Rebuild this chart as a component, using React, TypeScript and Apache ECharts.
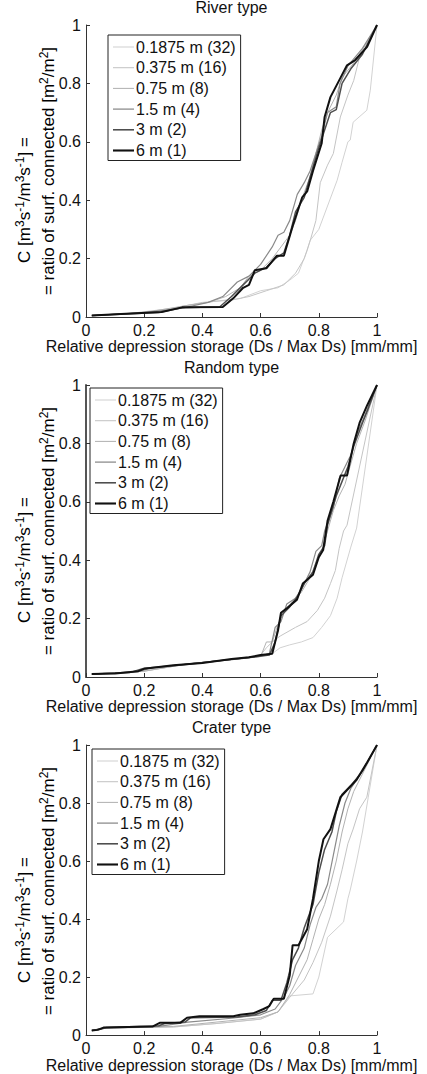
import React, { useEffect, useRef } from "react";
import * as echarts from "echarts";

type Pt = [number, number];

// Grid cell sizes (m) with number of cells per side
const sizeLabels = ["0.1875 m (32)", "0.375 m (16)", "0.75 m (8)", "1.5 m (4)", "3 m (2)", "6 m (1)"];
const lineColors = ["#d2d2d2", "#c4c4c4", "#b2b2b2", "#8a8a8a", "#4e4e4e", "#111111"];
const lineWidths = [1, 1, 1, 1.2, 1.5, 2];

const panelTitles = ["River type", "Random type", "Crater type"];
const xTickLabels = ["0", "0.2", "0.4", "0.6", "0.8", "1"];

// River type: relative depression storage vs. connectivity C
const river1875: Pt[] = [[0.02,0.005],[0.12,0.01],[0.25,0.02],[0.35,0.04],[0.45,0.055],[0.53,0.063],[0.6,0.09],[0.66,0.1],[0.7,0.126],[0.73,0.15],[0.76,0.228],[0.77,0.262],[0.8,0.3],[0.83,0.38],[0.863,0.468],[0.88,0.53],[0.9,0.6],[0.908,0.606],[0.918,0.667],[0.965,0.708],[0.977,0.777],[1,1]];
const river375: Pt[] = [[0.02,0.005],[0.15,0.012],[0.3,0.03],[0.4,0.05],[0.5,0.058],[0.56,0.07],[0.62,0.09],[0.68,0.11],[0.72,0.15],[0.75,0.2],[0.77,0.26],[0.79,0.33],[0.805,0.46],[0.83,0.52],[0.85,0.56],[0.874,0.685],[0.9,0.76],[0.92,0.81],[0.94,0.89],[0.97,0.94],[1,1]];
const river75: Pt[] = [[0.02,0.005],[0.2,0.015],[0.35,0.04],[0.42,0.05],[0.48,0.07],[0.53,0.1],[0.56,0.14],[0.6,0.16],[0.64,0.2],[0.67,0.24],[0.7,0.28],[0.72,0.33],[0.74,0.4],[0.77,0.48],[0.79,0.56],[0.81,0.64],[0.83,0.7],[0.86,0.76],[0.88,0.82],[0.92,0.87],[0.96,0.93],[1,1]];
const river15: Pt[] = [[0.02,0.005],[0.2,0.015],[0.33,0.03],[0.42,0.05],[0.47,0.07],[0.52,0.12],[0.56,0.14],[0.6,0.18],[0.64,0.24],[0.66,0.28],[0.68,0.29],[0.7,0.33],[0.726,0.42],[0.75,0.46],[0.77,0.5],[0.79,0.56],[0.81,0.62],[0.83,0.7],[0.86,0.72],[0.873,0.8],[0.9,0.86],[0.95,0.92],[1,1]];
const river3: Pt[] = [[0.02,0.005],[0.25,0.015],[0.33,0.032],[0.46,0.035],[0.5,0.07],[0.54,0.11],[0.58,0.15],[0.62,0.17],[0.65,0.2],[0.68,0.22],[0.7,0.28],[0.72,0.36],[0.75,0.41],[0.77,0.48],[0.8,0.58],[0.82,0.64],[0.84,0.7],[0.86,0.71],[0.88,0.8],[0.91,0.85],[0.95,0.9],[1,1]];
const river6: Pt[] = [[0.02,0.005],[0.12,0.01],[0.26,0.017],[0.33,0.033],[0.47,0.034],[0.506,0.064],[0.54,0.1],[0.56,0.11],[0.58,0.16],[0.62,0.167],[0.656,0.21],[0.68,0.21],[0.713,0.32],[0.743,0.41],[0.76,0.43],[0.78,0.5],[0.81,0.595],[0.82,0.685],[0.84,0.753],[0.874,0.818],[0.897,0.862],[0.925,0.88],[0.966,0.925],[1,1]];

// Random type
const random1875: Pt[] = [[0.02,0.01],[0.2,0.02],[0.35,0.045],[0.5,0.06],[0.6,0.07],[0.64,0.08],[0.667,0.1],[0.7,0.11],[0.74,0.12],[0.78,0.135],[0.81,0.17],[0.84,0.21],[0.863,0.27],[0.88,0.34],[0.91,0.445],[0.93,0.51],[1,1]];
const random375: Pt[] = [[0.02,0.01],[0.2,0.02],[0.35,0.045],[0.5,0.06],[0.6,0.075],[0.62,0.1],[0.64,0.12],[0.667,0.14],[0.72,0.17],[0.76,0.19],[0.795,0.228],[0.82,0.27],[0.84,0.32],[0.857,0.365],[0.87,0.44],[0.885,0.5],[0.897,0.52],[1,1]];
const random75: Pt[] = [[0.02,0.01],[0.2,0.02],[0.35,0.045],[0.5,0.06],[0.6,0.07],[0.62,0.12],[0.64,0.12],[0.66,0.18],[0.68,0.22],[0.71,0.26],[0.74,0.29],[0.77,0.34],[0.79,0.39],[0.81,0.43],[0.83,0.5],[0.85,0.57],[0.87,0.62],[0.89,0.66],[0.91,0.73],[0.93,0.8],[0.96,0.88],[1,1]];
const random15: Pt[] = [[0.02,0.01],[0.18,0.018],[0.22,0.03],[0.35,0.045],[0.5,0.06],[0.6,0.072],[0.63,0.08],[0.65,0.17],[0.67,0.19],[0.69,0.25],[0.72,0.27],[0.74,0.3],[0.77,0.36],[0.79,0.43],[0.81,0.45],[0.82,0.5],[0.85,0.58],[0.87,0.68],[0.89,0.72],[0.91,0.76],[0.93,0.83],[0.96,0.9],[1,1]];
const random3: Pt[] = [[0.02,0.01],[0.15,0.015],[0.2,0.03],[0.32,0.04],[0.45,0.055],[0.55,0.065],[0.63,0.075],[0.65,0.12],[0.67,0.21],[0.7,0.24],[0.73,0.28],[0.75,0.32],[0.78,0.36],[0.8,0.42],[0.82,0.45],[0.83,0.52],[0.86,0.62],[0.88,0.67],[0.9,0.72],[0.92,0.79],[0.95,0.87],[0.97,0.92],[1,1]];
const random6: Pt[] = [[0.02,0.01],[0.1,0.012],[0.18,0.02],[0.2,0.028],[0.3,0.04],[0.4,0.048],[0.45,0.055],[0.5,0.062],[0.56,0.068],[0.6,0.075],[0.64,0.08],[0.66,0.16],[0.67,0.22],[0.69,0.235],[0.725,0.265],[0.745,0.32],[0.78,0.35],[0.8,0.41],[0.815,0.435],[0.83,0.535],[0.85,0.6],[0.875,0.69],[0.897,0.69],[0.92,0.8],[0.94,0.87],[0.966,0.93],[1,1]];

// Crater type
const crater1875: Pt[] = [[0.02,0.016],[0.06,0.024],[0.3,0.028],[0.45,0.04],[0.6,0.055],[0.66,0.08],[0.7,0.135],[0.78,0.142],[0.8,0.2],[0.83,0.337],[0.885,0.39],[0.9,0.47],[0.908,0.5],[0.93,0.6],[0.95,0.7],[0.97,0.82],[1,1]];
const crater375: Pt[] = [[0.02,0.016],[0.06,0.024],[0.3,0.028],[0.45,0.04],[0.6,0.055],[0.66,0.08],[0.7,0.13],[0.75,0.19],[0.78,0.25],[0.81,0.32],[0.84,0.41],[0.863,0.5],[0.88,0.57],[0.9,0.66],[0.918,0.71],[0.94,0.78],[0.965,0.82],[1,1]];
const crater75: Pt[] = [[0.02,0.016],[0.06,0.024],[0.3,0.03],[0.45,0.045],[0.6,0.06],[0.66,0.08],[0.7,0.14],[0.73,0.2],[0.76,0.26],[0.78,0.33],[0.8,0.4],[0.82,0.45],[0.84,0.52],[0.86,0.6],[0.88,0.7],[0.9,0.78],[0.92,0.84],[0.95,0.9],[1,1]];
const crater15: Pt[] = [[0.02,0.016],[0.06,0.024],[0.25,0.03],[0.35,0.045],[0.5,0.058],[0.6,0.07],[0.65,0.09],[0.68,0.13],[0.7,0.17],[0.72,0.24],[0.75,0.3],[0.77,0.38],[0.79,0.44],[0.81,0.47],[0.83,0.52],[0.85,0.62],[0.87,0.72],[0.89,0.8],[0.91,0.85],[0.95,0.91],[1,1]];
const crater3: Pt[] = [[0.02,0.016],[0.05,0.02],[0.07,0.026],[0.25,0.032],[0.27,0.04],[0.34,0.045],[0.36,0.06],[0.52,0.062],[0.58,0.07],[0.62,0.085],[0.64,0.12],[0.67,0.12],[0.69,0.18],[0.71,0.26],[0.73,0.3],[0.75,0.37],[0.78,0.45],[0.8,0.56],[0.82,0.64],[0.845,0.7],[0.86,0.77],[0.88,0.83],[0.91,0.86],[0.95,0.91],[1,1]];
const crater6: Pt[] = [[0.02,0.016],[0.04,0.018],[0.06,0.026],[0.23,0.03],[0.255,0.043],[0.325,0.043],[0.347,0.06],[0.39,0.065],[0.506,0.065],[0.53,0.07],[0.575,0.075],[0.61,0.09],[0.63,0.1],[0.645,0.125],[0.68,0.125],[0.7,0.205],[0.71,0.31],[0.73,0.31],[0.76,0.365],[0.78,0.47],[0.8,0.6],[0.816,0.675],[0.84,0.71],[0.874,0.82],[0.897,0.845],[0.93,0.88],[0.966,0.94],[1,1]];

const panelData: Pt[][][] = [
  [river1875, river375, river75, river15, river3, river6],
  [random1875, random375, random75, random15, random3, random6],
  [crater1875, crater375, crater75, crater15, crater3, crater6],
];

const FONT = "Liberation Sans, Arial, sans-serif";
const TEXT = "#111";
const AXIS = "#333";

// layout of each panel
const plotLeft = 86;
const plotWidth = 291;
const plotHeight = 292;
const plotTops = [25, 385, 745];
const legendPos = [
  { left: 108, top: 35 },
  { left: 90, top: 388 },
  { left: 92, top: 749 },
];

export default function App() {
  const ref = useRef<HTMLDivElement>(null);

  useEffect(() => {
    if (!ref.current) return;
    const chart = echarts.init(ref.current, undefined, { renderer: "svg" });

    const fmt = (v: number) => xTickLabels[Math.round(v * 5)] ?? String(v);

    const grids = plotTops.map((top) => ({ left: plotLeft, top, width: plotWidth, height: plotHeight }));

    const axisCommon = (i: number) => ({
      gridIndex: i,
      type: "value" as const,
      min: 0,
      max: 1,
      interval: 0.2,
      splitLine: { show: false },
      axisLine: { show: true, onZero: false, lineStyle: { color: AXIS, width: 1 } },
      axisTick: { show: true, inside: true, length: 4, lineStyle: { color: AXIS } },
      axisLabel: { formatter: fmt, color: TEXT, fontSize: 16, fontFamily: FONT, margin: 5 },
    });

    const xAxes = plotTops.map((_, i) => ({
      ...axisCommon(i),
      name: "Relative depression storage (Ds / Max Ds) [mm/mm]",
      nameLocation: "middle",
      nameGap: 20,
      nameTextStyle: { color: TEXT, fontSize: 16, fontFamily: FONT, verticalAlign: "top" },
    }));
    const yAxes = plotTops.map((_, i) => ({
      ...axisCommon(i),
      axisLine: { show: true, onZero: false, lineStyle: { color: i === 1 ? "#555" : AXIS, width: i === 1 ? 2 : 1 } },
    }));

    const series: any[] = [];
    panelData.forEach((curves, p) => {
      curves.forEach((data, s) => {
        series.push({
          type: "line",
          name: sizeLabels[s],
          xAxisIndex: p,
          yAxisIndex: p,
          data,
          symbol: "none",
          color: lineColors[s],
          lineStyle: { color: lineColors[s], width: lineWidths[s] },
          z: 2 + s,
        });
      });
    });

    // legend keys drawn as plain line segments, thickness following each series
    const legendItems = sizeLabels.map((name, s) => ({
      name,
      icon: `path://M0,0H20V${lineWidths[s]}H0Z`,
      itemStyle: { color: lineColors[s] },
    }));

    const legends = legendPos.map((pos) => ({
      data: legendItems,
      orient: "vertical",
      left: pos.left,
      top: pos.top,
      itemWidth: 21,
      itemHeight: 16,
      itemGap: 4.7,
      symbolKeepAspect: true,
      padding: [4, 5, 2, 5],
      borderColor: "#222",
      borderWidth: 1,
      backgroundColor: "#fff",
      selectedMode: false,
      textStyle: { color: TEXT, fontSize: 16, fontFamily: FONT, padding: [0, 0, 0, -3] },
    }));

    const titles = panelTitles.map((t, i) => ({
      text: t,
      left: plotLeft + plotWidth / 2,
      top: plotTops[i] - 26,
      textAlign: "center",
      padding: 0,
      textStyle: { color: TEXT, fontSize: 16, fontWeight: "normal", fontFamily: FONT },
    }));

    const rich = {
      n: { fontSize: 17, fontFamily: FONT, color: TEXT, lineHeight: 21 },
      s: { fontSize: 12, fontFamily: FONT, color: TEXT, lineHeight: 14, verticalAlign: "top" },
    };

    // two-line rotated y-axis label of each panel
    const yLabels: any[] = [];
    plotTops.forEach((top) => {
      const mid = top + plotHeight / 2;
      yLabels.push({
        type: "text",
        x: 24,
        y: mid + 29,
        rotation: Math.PI / 2,
        style: {
          text: "{n|C [m}{s|3}{n|s}{s|-1}{n|/m}{s|3}{n|s}{s|-1}{n|] =}",
          rich,
          align: "center",
          verticalAlign: "middle",
        },
      });
      yLabels.push({
        type: "text",
        x: 48,
        y: mid,
        rotation: Math.PI / 2,
        style: {
          text: "{n|= ratio of surf. connected [m}{s|2}{n|/m}{s|2}{n|]}",
          rich,
          align: "center",
          verticalAlign: "middle",
        },
      });
    });

    chart.setOption({
      animation: false,
      backgroundColor: "#fff",
      title: titles,
      grid: grids,
      xAxis: xAxes,
      yAxis: yAxes,
      legend: legends,
      series,
      graphic: yLabels,
    });

    return () => chart.dispose();
  }, []);

  return (
    <div
      ref={ref}
      style={{ position: "fixed", left: 0, top: 0, width: 427, height: 1074, background: "#fff" }}
    />
  );
}
